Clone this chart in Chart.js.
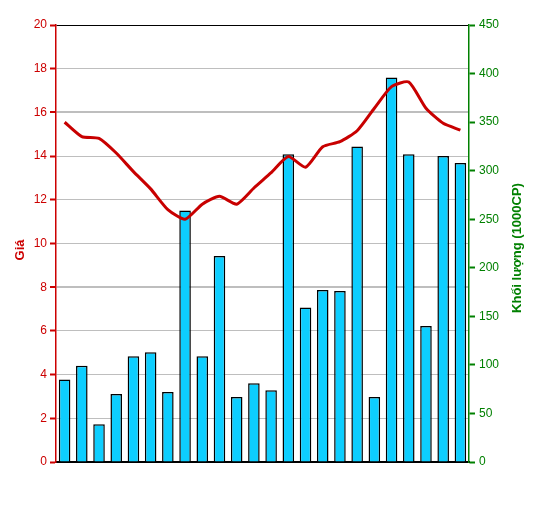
<!DOCTYPE html>
<html>
<head>
<meta charset="utf-8">
<script src="https://cdn.jsdelivr.net/npm/chart.js@4/dist/chart.umd.min.js"></script>
<style>
html,body{margin:0;padding:0;background:#fff;}
#c{display:block;}
</style>
</head>
<body>
<canvas id="c" width="550" height="525" style="width:550px;height:525px"></canvas>
<script>
const categories = ['1','2','3','4','5','6','7','8','9','10','11','12','13','14','15','16','17','18','19','20','21','22','23','24'];
const priceValues = [15.55,14.89,14.81,14.14,13.29,12.5,11.55,11.11,11.8,12.16,11.8,12.54,13.24,13.98,13.49,14.43,14.66,15.16,16.19,17.18,17.39,16.19,15.5,15.19];
const volumeValues = [85,99,39,70,109,113,72,259,109,212,67,81,74,317,159,177,176,325,67,396,317,140,315,308];
const priceAxis = {min:0, max:20, step:2};
const volumeAxis = {min:0, max:450, step:50};
const priceTitle = 'Giá';
const volumeTitle = 'Khối lượng (1000CP)';

const RED = '#CC0000';
const GREEN = '#008000';
const FONT = 'Liberation Sans, Arial, sans-serif';

const titlePlugin = {
  id: 'axisTitles',
  afterDraw(chart) {
    const ctx = chart.ctx;
    ctx.save();
    ctx.font = 'bold 13px ' + FONT;
    ctx.textAlign = 'center';
    ctx.textBaseline = 'middle';
    ctx.fillStyle = RED;
    ctx.translate(20, 250);
    ctx.rotate(-Math.PI/2);
    ctx.fillText(priceTitle, 0, 0);
    ctx.restore();
    ctx.save();
    ctx.font = 'bold 13px ' + FONT;
    ctx.textAlign = 'center';
    ctx.textBaseline = 'middle';
    ctx.fillStyle = GREEN;
    ctx.translate(517, 248);
    ctx.rotate(-Math.PI/2);
    ctx.fillText(volumeTitle, 0, 0);
    ctx.restore();
  }
};

new Chart(document.getElementById('c'), {
  data: {
    labels: categories,
    datasets: [
      {
        type: 'line',
        label: priceTitle,
        data: priceValues,
        yAxisID: 'y',
        borderColor: '#C80000',
        borderWidth: 3,
        pointRadius: 0,
        tension: 0.2,
        order: 1
      },
      {
        type: 'bar',
        label: volumeTitle,
        data: volumeValues,
        yAxisID: 'y2',
        backgroundColor: '#0DCEFF',
        borderColor: '#000000',
        borderWidth: 1.5,
        barPercentage: 0.8,
        categoryPercentage: 0.84,
        order: 2
      }
    ]
  },
  options: {
    responsive: false,
    devicePixelRatio: 1,
    animation: false,
    layout: { padding: { top: 25, left: 0, right: 0, bottom: 0 } },
    plugins: { legend: { display: false }, tooltip: { enabled: false } },
    scales: {
      x: {
        offset: true,
        ticks: { display: false },
        grid: { display: false, drawTicks: false },
        border: { display: true, color: '#000', width: 2 },
        afterFit(s) { s.height = 63; }
      },
      y: {
        position: 'left',
        min: priceAxis.min, max: priceAxis.max,
        ticks: { stepSize: priceAxis.step, color: RED, font: { family: FONT, size: 12 }, padding: 3 },
        grid: {
          color: c => c.tick.value === 20 ? '#000' : (c.tick.value === 0 ? 'rgba(0,0,0,0)' : '#BEBEBE'),
          lineWidth: c => (c.tick.value === 16 || c.tick.value === 8) ? 2 : 1,
          tickColor: RED,
          tickLength: 6,
          tickWidth: 2
        },
        border: { color: RED, width: 1.5 },
        afterFit(s) { s.width = 56; }
      },
      y2: {
        position: 'right',
        min: volumeAxis.min, max: volumeAxis.max,
        ticks: { stepSize: volumeAxis.step, color: GREEN, font: { family: FONT, size: 12 }, padding: 4 },
        grid: { drawOnChartArea: false, tickColor: GREEN, tickLength: 6, tickWidth: 2 },
        border: { color: GREEN, width: 1.5 },
        afterFit(s) { s.width = 81; }
      }
    }
  },
  plugins: [titlePlugin]
});
</script>
</body>
</html>
